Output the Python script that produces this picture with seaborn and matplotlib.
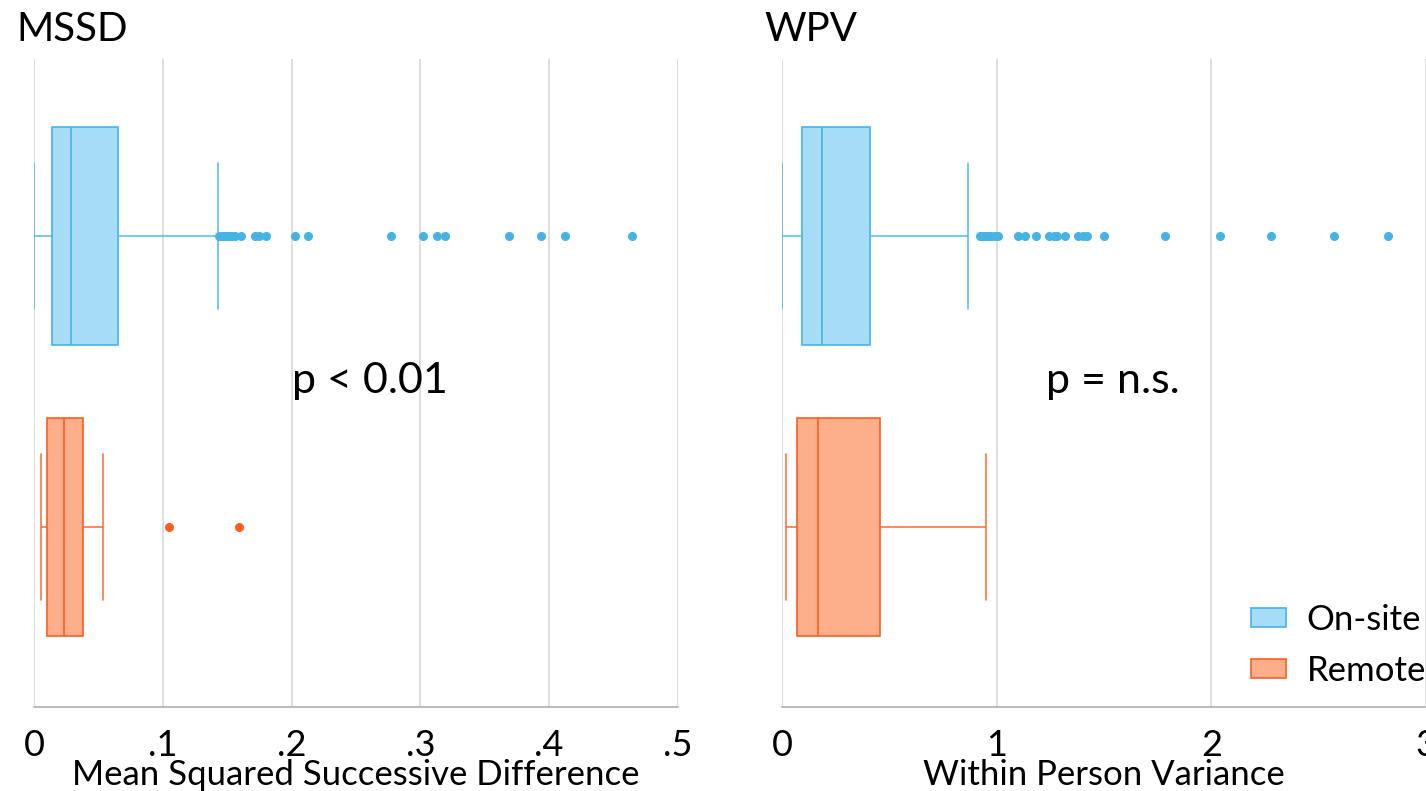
import pandas as pd
import seaborn as sns
import matplotlib.pyplot as plt
from matplotlib.patches import Patch

# box stats: whisker low, q1, median, q3, whisker high
groups = ["On-site", "Remote"]

mssd_onsite_box = [0.0, 0.0138, 0.029, 0.0655, 0.1427]
mssd_onsite_out = [0.144, 0.146, 0.148, 0.150, 0.152, 0.154, 0.156, 0.161,
                   0.172, 0.175, 0.180, 0.203, 0.213, 0.277, 0.302, 0.313,
                   0.319, 0.369, 0.394, 0.412, 0.464]
mssd_remote_box = [0.0052, 0.0098, 0.0233, 0.0383, 0.0535]
mssd_remote_out = [0.105, 0.159]

wpv_onsite_box = [0.0, 0.093, 0.186, 0.409, 0.867]
wpv_onsite_out = [0.92, 0.93, 0.945, 0.96, 0.975, 0.99, 1.005, 1.10, 1.13,
                  1.184, 1.246, 1.265, 1.283, 1.319, 1.381, 1.40, 1.423, 1.50,
                  1.786, 2.041, 2.28, 2.572, 2.825]
wpv_remote_box = [0.019, 0.070, 0.166, 0.458, 0.951]
wpv_remote_out = []

mssd_ticks = [0, 0.1, 0.2, 0.3, 0.4, 0.5]
mssd_ticklabels = ["0", ".1", ".2", ".3", ".4", ".5"]
wpv_ticks = [0, 1, 2, 3]
wpv_ticklabels = ["0", "1", "2", "3"]

fill_colors = {"On-site": "#a6dcf5", "Remote": "#fdae8b"}
line_colors = {"On-site": "#45b4e5", "Remote": "#fb5f1f"}


def make_sample(box, outliers):
    # rebuild a small sample whose quartiles / whiskers match the read stats
    lo, q1, med, q3, hi = box
    m = len(outliers)
    return [lo] + [q1] * (2 * m + 1) + [med] + [q3] * (m + 1) + [hi] + list(outliers)


def make_frame(onsite_box, onsite_out, remote_box, remote_out):
    rows = []
    for v in make_sample(onsite_box, onsite_out):
        rows.append({"group": "On-site", "value": v})
    for v in make_sample(remote_box, remote_out):
        rows.append({"group": "Remote", "value": v})
    return pd.DataFrame(rows)


mssd_df = make_frame(mssd_onsite_box, mssd_onsite_out, mssd_remote_box, mssd_remote_out)
wpv_df = make_frame(wpv_onsite_box, wpv_onsite_out, wpv_remote_box, wpv_remote_out)

sns.set_theme(style="white")
plt.rcParams["font.family"] = ["Lato", "DejaVu Sans"]
plt.rcParams["text.color"] = "black"
plt.rcParams["xtick.color"] = "#d4d4d4"
plt.rcParams["xtick.labelcolor"] = "black"

fig = plt.figure(figsize=(14.26, 7.91), dpi=100)
ax1 = fig.add_axes([0.0238, 0.1062, 0.4516, 0.8192])
ax2 = fig.add_axes([0.5484, 0.1062, 0.4516, 0.8192])

panels = [
    (ax1, mssd_df, mssd_ticks, mssd_ticklabels, "Mean Squared Successive Difference", "MSSD", "p < 0.01", 0.261),
    (ax2, wpv_df, wpv_ticks, wpv_ticklabels, "Within Person Variance", "WPV", "p = n.s.", 1.54),
]

for ax, df, ticks, ticklabels, xlabel, title, ptext, px in panels:
    for g in groups:
        sub = df[df["group"] == g]
        c = line_colors[g]
        sns.boxplot(data=sub, x="value", y="group", order=groups, ax=ax,
                    color=fill_colors[g], linecolor=c, saturation=1,
                    width=0.75, linewidth=1.2, whis=1.5, capwidths=0.5,
                    whiskerprops={"alpha": 0.85}, capprops={"alpha": 0.85},
                    flierprops={"marker": "o", "markerfacecolor": c,
                                "markeredgecolor": c, "markersize": 5.5})
    ax.set_xlim(ticks[0], ticks[-1])
    ax.set_ylim(1.619, -0.608)
    ax.set_xticks(ticks)
    ax.set_xticklabels(ticklabels, fontsize=26, color="black")
    ax.set_yticks([])
    ax.set_ylabel("")
    ax.set_xlabel(xlabel, fontsize=25, color="black", labelpad=-2)
    ax.grid(axis="x", color="#d4d4d4", linewidth=1.1)
    ax.set_axisbelow(True)
    for s in ["top", "right", "left"]:
        ax.spines[s].set_visible(False)
    ax.spines["bottom"].set_color("#a8a8a8")
    ax.spines["bottom"].set_linewidth(1.1)
    ax.tick_params(axis="x", length=12, color="#d4d4d4", width=1.1, pad=4)
    ax.text(px, 0.5, ptext, fontsize=31, ha="center", va="center", color="black")
    ax.text(-0.028, 1.028, title, transform=ax.transAxes, fontsize=29,
            ha="left", va="baseline", color="black")

handles = [Patch(facecolor=fill_colors[g], edgecolor=line_colors[g], linewidth=1.2) for g in groups]
leg = ax2.legend(handles, groups, loc="upper left", bbox_to_anchor=(0.728, 0.159),
                 frameon=False, handlelength=1.0, handleheight=0.45,
                 handletextpad=0.6, borderpad=0, borderaxespad=0, labelspacing=0.55,
                 prop={"size": 25})
for t in leg.get_texts():
    t.set_color("black")

fig.savefig("out.png", dpi=100)
